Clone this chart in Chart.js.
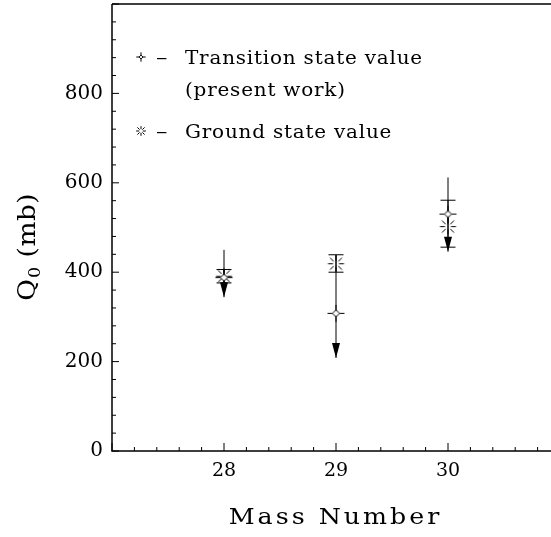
<!DOCTYPE html>
<html>
<head>
<meta charset="utf-8">
<script src="https://cdn.jsdelivr.net/npm/chart.js@4.4.0/dist/chart.umd.min.js"></script>
<style>
  html, body { margin: 0; padding: 0; background: #fff; overflow: hidden; }
  #wrap { width: 570px; height: 537px; }
</style>
</head>
<body>
<div id="wrap"><canvas id="chart"></canvas></div>
<script>
// values
const massNumbers = [28, 29, 30];
const transitionValues = [388, 308, 530];
const transitionUpper = [450, 439, 612];
const transitionArrowTip = [344, 208, 446];
const groundValues = [391, 419, 502];
const groundUpper = [406, 439, 561];
const groundLower = [376, 400, 456];
const xLabels = [28, 29, 30];
const yLabels = [0, 200, 400, 600, 800];

const FONT = "'DejaVu Serif', 'Liberation Serif', serif";

function drawTransitionMark(ctx, x, y, s) {
  const d = 3.5 * s, r = 8.5 * s;
  ctx.beginPath();
  ctx.moveTo(x - r, y); ctx.lineTo(x - d, y);
  ctx.moveTo(x + d, y); ctx.lineTo(x + r, y);
  ctx.moveTo(x, y - r); ctx.lineTo(x, y - d);
  ctx.moveTo(x, y + d); ctx.lineTo(x, y + r);
  ctx.stroke();
  ctx.beginPath();
  ctx.moveTo(x, y - d); ctx.lineTo(x + d, y); ctx.lineTo(x, y + d); ctx.lineTo(x - d, y);
  ctx.closePath();
  ctx.fillStyle = '#fff';
  ctx.fill();
  ctx.stroke();
}

function drawGroundMark(ctx, x, y, s) {
  const a = 3 * s, b = 8 * s, c = 2.3 * s, e = 6 * s;
  ctx.beginPath();
  ctx.moveTo(x - b, y); ctx.lineTo(x - a, y);
  ctx.moveTo(x + a, y); ctx.lineTo(x + b, y);
  ctx.moveTo(x, y - b); ctx.lineTo(x, y - a);
  ctx.moveTo(x, y + a); ctx.lineTo(x, y + b);
  ctx.moveTo(x - e, y - e); ctx.lineTo(x - c, y - c);
  ctx.moveTo(x + e, y - e); ctx.lineTo(x + c, y - c);
  ctx.moveTo(x - e, y + e); ctx.lineTo(x - c, y + c);
  ctx.moveTo(x + e, y + e); ctx.lineTo(x + c, y + c);
  ctx.stroke();
}

function makeMarker(fn) {
  const c = document.createElement('canvas');
  c.width = 21; c.height = 21;
  const g = c.getContext('2d');
  g.strokeStyle = '#000';
  g.lineWidth = 1;
  fn(g, 10.5, 10.5, 1);
  return c;
}

// text with wider glyphs and extra spacing, like the original plot font
function drawSpaced(ctx, str, x, y, sx, sp, align) {
  const chars = [...str];
  const ws = chars.map(ch => ctx.measureText(ch).width * sx);
  const total = ws.reduce((a, b) => a + b, 0) + sp * (chars.length - 1);
  let cx = align === 'center' ? x - total / 2 : x;
  ctx.textAlign = 'left';
  chars.forEach((ch, i) => {
    ctx.save();
    ctx.translate(cx, y);
    ctx.scale(sx, 1);
    ctx.fillText(ch, 0, 0);
    ctx.restore();
    cx += ws[i] + sp;
  });
  return total;
}

const decor = {
  id: 'decor',
  beforeDatasetsDraw(chart) {
    const { ctx, scales: { x, y } } = chart;
    ctx.save();
    ctx.strokeStyle = '#000';
    ctx.fillStyle = '#000';
    ctx.lineWidth = 1;
    massNumbers.forEach((m, i) => {
      const px = x.getPixelForValue(m);
      const top = y.getPixelForValue(transitionUpper[i]);
      const tip = y.getPixelForValue(transitionArrowTip[i]);
      ctx.beginPath();
      ctx.moveTo(px, top);
      ctx.lineTo(px, tip);
      ctx.stroke();
      ctx.beginPath();
      ctx.moveTo(px, tip);
      ctx.lineTo(px - 4, tip - 15);
      ctx.lineTo(px + 4, tip - 15);
      ctx.closePath();
      ctx.fill();

      const gHi = y.getPixelForValue(groundUpper[i]);
      const gLo = y.getPixelForValue(groundLower[i]);
      ctx.beginPath();
      ctx.moveTo(px, gHi); ctx.lineTo(px, gLo);
      ctx.moveTo(px - 7.5, gHi); ctx.lineTo(px + 7.5, gHi);
      ctx.moveTo(px - 7.5, gLo); ctx.lineTo(px + 7.5, gLo);
      ctx.stroke();
    });
    ctx.restore();
  },
  afterDraw(chart) {
    const { ctx, chartArea: area, scales: { x, y } } = chart;
    ctx.save();
    ctx.strokeStyle = '#000';
    ctx.fillStyle = '#000';

    // frame: left, bottom, top
    ctx.lineWidth = 1.5;
    ctx.beginPath();
    ctx.moveTo(area.left, area.top);
    ctx.lineTo(area.left, area.bottom);
    ctx.lineTo(chart.width, area.bottom);
    ctx.moveTo(area.left, area.top);
    ctx.lineTo(chart.width, area.top);
    ctx.stroke();

    // inward tick marks
    ctx.lineWidth = 1;
    ctx.beginPath();
    x.ticks.forEach(t => {
      const px = x.getPixelForValue(t.value);
      const major = Math.abs(t.value - Math.round(t.value)) < 1e-6;
      const len = major ? 8 : 4;
      ctx.moveTo(px, area.bottom); ctx.lineTo(px, area.bottom - len);
    });
    y.ticks.forEach(t => {
      const py = y.getPixelForValue(t.value);
      const len = t.value % 200 === 0 ? 7 : 4;
      ctx.moveTo(area.left, py); ctx.lineTo(area.left + len, py);
    });
    ctx.stroke();

    // x title
    ctx.textBaseline = 'alphabetic';
    ctx.font = '23px ' + FONT;
    drawSpaced(ctx, 'Mass Number', 334, 524, 1.1, 3.0, 'center');

    // y title Q0 (mb), rotated
    ctx.save();
    ctx.translate(35, 247);
    ctx.rotate(-Math.PI / 2);
    ctx.font = '24px ' + FONT;
    const wQ = ctx.measureText('Q').width * 1.1;
    const wRest = [...' (mb)'].reduce((a, ch) => a + ctx.measureText(ch).width * 1.1 + 0.5, 0);
    ctx.font = '16px ' + FONT;
    const w0 = ctx.measureText('0').width * 1.1;
    const total = wQ + 1 + w0 + wRest;
    let cx = -total / 2;
    ctx.font = '24px ' + FONT;
    drawSpaced(ctx, 'Q', cx, 0, 1.1, 0.5, 'left');
    cx += wQ + 1;
    ctx.font = '16px ' + FONT;
    drawSpaced(ctx, '0', cx, 5, 1.1, 0.5, 'left');
    cx += w0 + 0.5;
    ctx.font = '24px ' + FONT;
    drawSpaced(ctx, ' (mb)', cx, 0, 1.1, 0.5, 'left');
    ctx.restore();

    // legend inside the plot
    ctx.lineWidth = 1;
    drawTransitionMark(ctx, area.left + 29, 57, 0.55);
    ctx.strokeStyle = '#000';
    drawGroundMark(ctx, area.left + 29, 131, 0.6);
    ctx.fillStyle = '#000';
    ctx.font = '19px ' + FONT;
    drawSpaced(ctx, '–', area.left + 44, 64, 1.2, 0, 'left');
    drawSpaced(ctx, 'Transition state value', area.left + 73, 64, 1.05, 0.8, 'left');
    drawSpaced(ctx, '(present work)', area.left + 73, 96, 1.05, 0.8, 'left');
    drawSpaced(ctx, '–', area.left + 44, 138, 1.2, 0, 'left');
    drawSpaced(ctx, 'Ground state value', area.left + 73, 138, 1.05, 0.8, 'left');
    ctx.restore();
  }
};

new Chart(document.getElementById('chart'), {
  type: 'scatter',
  data: {
    datasets: [
      {
        label: 'Transition state value (present work)',
        data: massNumbers.map((m, i) => ({ x: m, y: transitionValues[i] })),
        pointStyle: makeMarker(drawTransitionMark),
        pointRadius: 10,
        showLine: false
      },
      {
        label: 'Ground state value',
        data: massNumbers.map((m, i) => ({ x: m, y: groundValues[i] })),
        pointStyle: makeMarker(drawGroundMark),
        pointRadius: 10,
        showLine: false
      }
    ]
  },
  options: {
    responsive: true,
    maintainAspectRatio: false,
    animation: false,
    layout: { autoPadding: false, padding: { top: 4, right: 10, left: 0, bottom: 0 } },
    plugins: { legend: { display: false }, tooltip: { enabled: false } },
    scales: {
      x: {
        type: 'linear',
        min: 27,
        max: 31,
        grid: { display: false, drawTicks: false },
        border: { display: false },
        afterFit(scale) {
          scale.height = 86;
          scale.paddingLeft = 0;
          scale.paddingRight = 0;
        },
        ticks: {
          stepSize: 0.2,
          autoSkip: false,
          maxRotation: 0,
          padding: 9,
          color: '#000',
          font: { family: FONT, size: 19 },
          callback(v) {
            const r = Math.round(v);
            return Math.abs(v - r) < 1e-6 && xLabels.includes(r) ? String(r) : '';
          }
        }
      },
      y: {
        min: 0,
        max: 1000,
        grid: { display: false, drawTicks: false },
        border: { display: false },
        afterFit(scale) {
          scale.width = 112;
          scale.paddingTop = 0;
          scale.paddingBottom = 0;
        },
        ticks: {
          stepSize: 40,
          autoSkip: false,
          padding: 9,
          color: '#000',
          font: { family: FONT, size: 20 },
          callback(v) { return yLabels.includes(v) ? String(v) : ''; }
        }
      }
    }
  },
  plugins: [decor]
});
</script>
</body>
</html>
